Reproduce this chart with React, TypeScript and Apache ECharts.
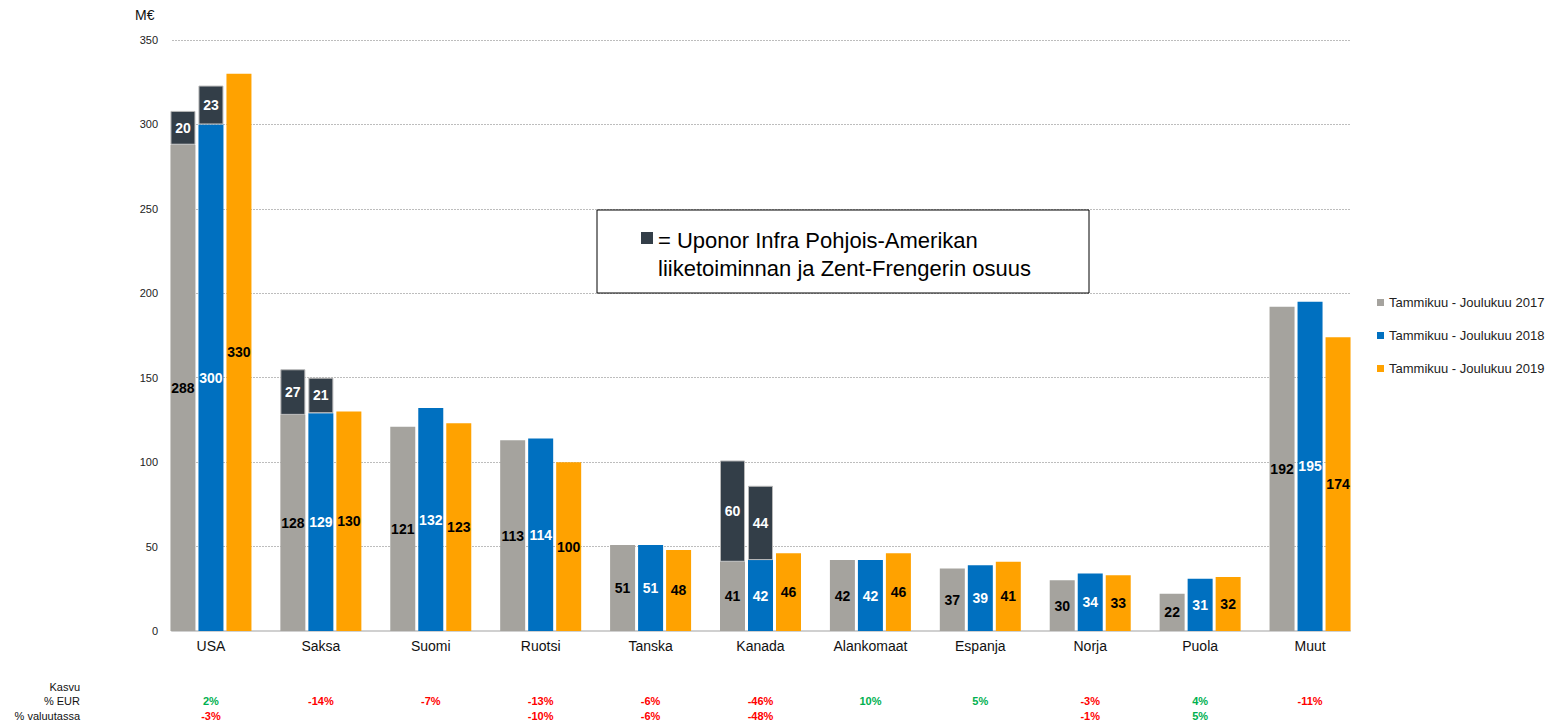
import React, { useEffect, useRef } from "react";
import * as echarts from "echarts";

const categories = ["USA", "Saksa", "Suomi", "Ruotsi", "Tanska", "Kanada", "Alankomaat", "Espanja", "Norja", "Puola", "Muut"];
const base2017 = [288, 128, 121, 113, 51, 41, 42, 37, 30, 22, 192];
const infra2017 = [20, 27, null, null, null, 60, null, null, null, null, null];
const base2018 = [300, 129, 132, 114, 51, 42, 42, 39, 34, 31, 195];
const infra2018 = [23, 21, null, null, null, 44, null, null, null, null, null];
const values2019 = [330, 130, 123, 100, 48, 46, 46, 41, 33, 32, 174];
const growthEur = ["2%", "-14%", "-7%", "-13%", "-6%", "-46%", "10%", "5%", "-3%", "4%", "-11%"];
const growthLocal = ["-3%", "", "", "-10%", "-6%", "-48%", "", "", "-1%", "5%", ""];
const seriesNames = ["Tammikuu - Joulukuu 2017", "Tammikuu - Joulukuu 2018", "Tammikuu - Joulukuu 2019"];

const FONT = "'Liberation Sans', Arial, sans-serif";
const NARROW = "'Liberation Sans Narrow', 'Liberation Sans', Arial, sans-serif";
const GRAY = "#a5a39e";
const BLUE = "#0070c0";
const ORANGE = "#ffa200";
const DARK = "#333e48";

function richKey(v: string): string {
  if (!v) return "e";
  return v.startsWith("-") ? "r" : "g";
}

export default function App() {
  const ref = useRef<HTMLDivElement>(null);
  useEffect(() => {
    const chart = echarts.init(ref.current!, null, { renderer: "svg" });
    const lbl = (color: string) => ({
      show: true,
      position: "inside" as const,
      color,
      fontWeight: "bold" as const,
      fontSize: 14,
      fontFamily: FONT,
      formatter: (p: any) => (p.value == null ? "" : String(p.value)),
    });
    const barCommon = { barWidth: 25, barGap: "12%", xAxisIndex: 1, yAxisIndex: 1 };
    chart.setOption({
      animation: false,
      textStyle: { fontFamily: FONT },
      grid: [
        { left: 172, right: 198, top: 40, bottom: 91, containLabel: false },
        { left: 156, right: 183, top: 40, bottom: 91, containLabel: false },
      ],
      legend: {
        data: seriesNames,
        orient: "vertical",
        left: 1372,
        top: 291,
        itemWidth: 7,
        itemHeight: 7,
        itemGap: 20,
        icon: "rect",
        textStyle: { fontSize: 13, color: "#222", fontFamily: FONT },
      },
      xAxis: [
        {
          type: "category",
          gridIndex: 0,
          data: categories,
          axisTick: { show: false },
          axisLabel: { show: false },
          axisLine: { lineStyle: { color: "#d0d0d0", width: 2 } },
        },
        {
          type: "category",
          gridIndex: 1,
          data: categories,
          axisTick: { show: false },
          axisLine: { show: false },
          axisLabel: {
            margin: 7,
            interval: 0,
            verticalAlign: "top",
            formatter: (v: string, i: number) =>
              `{n|${v}}\n{b| }\n{${richKey(growthEur[i])}|${growthEur[i] || " "}}\n{${richKey(growthLocal[i])}|${growthLocal[i] || " "}}`,
            rich: {
              n: { fontSize: 14, color: "#111", lineHeight: 16, fontFamily: FONT },
              b: { fontSize: 11, lineHeight: 39 },
              g: { fontSize: 11, lineHeight: 15, color: "#00b050", fontWeight: "bold", fontFamily: NARROW },
              r: { fontSize: 11, lineHeight: 15, color: "#ff0000", fontWeight: "bold", fontFamily: NARROW },
              e: { fontSize: 11, lineHeight: 15 },
            },
          },
        },
      ],
      yAxis: [
        {
          type: "value",
          gridIndex: 0,
          min: 0,
          max: 350,
          interval: 50,
          axisLine: { show: false },
          axisTick: { show: false },
          axisLabel: { fontSize: 11, color: "#222", margin: 14, fontFamily: FONT },
          splitLine: { lineStyle: { color: "#bdbdbd", type: [2, 1], width: 1 } },
        },
        {
          type: "value",
          gridIndex: 1,
          min: 0,
          max: 350,
          interval: 50,
          axisLine: { show: false },
          axisTick: { show: false },
          axisLabel: { show: false },
          splitLine: { show: false },
        },
      ],
      series: [
        {
          name: seriesNames[0], type: "bar", stack: "a", data: base2017,
          itemStyle: { color: GRAY }, label: lbl("#000"), ...barCommon,
        },
        {
          name: "infra2017", type: "bar", stack: "a", data: infra2017,
          itemStyle: { color: DARK, borderColor: "#b8b8b8", borderWidth: 1 }, label: lbl("#fff"), ...barCommon,
        },
        {
          name: seriesNames[1], type: "bar", stack: "b", data: base2018,
          itemStyle: { color: BLUE }, label: lbl("#fff"), ...barCommon,
        },
        {
          name: "infra2018", type: "bar", stack: "b", data: infra2018,
          itemStyle: { color: DARK, borderColor: "#b8b8b8", borderWidth: 1 }, label: lbl("#fff"), ...barCommon,
        },
        {
          name: seriesNames[2], type: "bar", stack: "c", data: values2019,
          itemStyle: { color: ORANGE }, label: lbl("#000"), ...barCommon,
        },
      ],
      graphic: [
        { type: "text", left: 135, top: 8, style: { text: "M€", fontSize: 14, fill: "#111", fontFamily: FONT } },
        { type: "text", right: 1468, top: 681, style: { text: "Kasvu", fontSize: 11, fill: "#111", fontFamily: NARROW, align: "right" } },
        { type: "text", right: 1468, top: 695, style: { text: "% EUR", fontSize: 11, fill: "#111", fontFamily: NARROW, align: "right" } },
        { type: "text", right: 1468, top: 710, style: { text: "% valuutassa", fontSize: 11, fill: "#111", fontFamily: NARROW, align: "right" } },
        {
          type: "rect",
          shape: { x: 597, y: 210, width: 492, height: 83 },
          style: { fill: "#fff", stroke: "#000", lineWidth: 1 },
          z: 10,
        },
        {
          type: "rect",
          shape: { x: 641, y: 232, width: 12, height: 12 },
          style: { fill: DARK },
          z: 11,
        },
        {
          type: "text",
          x: 658,
          y: 226,
          style: {
            text: "= Uponor Infra Pohjois-Amerikan\nliiketoiminnan ja Zent-Frengerin osuus",
            fontSize: 22,
            lineHeight: 28,
            fill: "#000",
            fontFamily: FONT,
          },
          z: 11,
        },
      ],
    });
    return () => chart.dispose();
  }, []);
  return (
    <div
      ref={ref}
      style={{ position: "fixed", left: 0, top: 0, width: 1548, height: 722, background: "#fff" }}
    />
  );
}
